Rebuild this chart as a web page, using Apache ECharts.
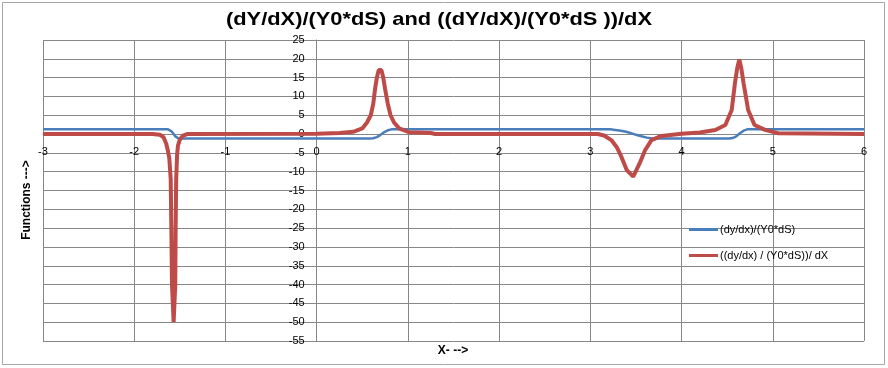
<!DOCTYPE html>
<html>
<head>
<meta charset="utf-8">
<script src="https://cdn.jsdelivr.net/npm/echarts@6/dist/echarts.min.js"></script>
<style>
html,body{margin:0;padding:0;background:#fff;}
#chart{width:888px;height:368px;}
</style>
</head>
<body>
<div id="chart"></div>
<script>
// ---- data ----
const titleText = "(dY/dX)/(Y0*dS) and ((dY/dX)/(Y0*dS ))/dX";
const seriesNames = ["(dy/dx)/(Y0*dS)", "((dy/dx) / (Y0*dS))/ dX"];
const xTicks = [-3, -2, -1, 0, 1, 2, 3, 4, 5, 6];
const yTicks = [-55, -50, -45, -40, -35, -30, -25, -20, -15, -10, -5, 0, 5, 10, 15, 20, 25];

const blueX = [-3, -1.63, -1.61, -1.59, -1.57, -1.55, -1.53, -1.51,
  0.58, 0.62, 0.66, 0.70, 0.74, 0.78, 0.82,
  3.22, 3.27, 3.32, 3.38, 3.44, 3.50, 3.56, 3.62, 3.68,
  4.52, 4.56, 4.60, 4.64, 4.68, 4.72, 6];
const blueY = [1.25, 1.25, 1.1, 0.7, 0.1, -0.6, -1.0, -1.2,
  -1.2, -1.1, -0.8, -0.2, 0.5, 1.0, 1.25,
  1.25, 1.1, 0.95, 0.7, 0.3, -0.2, -0.6, -0.95, -1.2,
  -1.2, -1.05, -0.6, 0.2, 0.9, 1.25, 1.25];

const redX = [-3, -1.80, -1.72, -1.68, -1.65, -1.63, -1.615, -1.60, -1.593, -1.586, -1.568,
  -1.55, -1.546, -1.54, -1.53, -1.52, -1.50, -1.47, -1.42,
  0.0, 0.25, 0.40, 0.50, 0.55, 0.593, 0.62, 0.64, 0.66, 0.68, 0.696, 0.71, 0.73, 0.75, 0.78, 0.81, 0.85, 0.905, 1.01, 1.25, 1.30,
  3.08, 3.15, 3.23, 3.29, 3.34, 3.40, 3.47, 3.54, 3.60, 3.67, 3.78, 4.0, 4.2,
  4.37, 4.48, 4.55, 4.585, 4.61, 4.633, 4.655, 4.68, 4.73, 4.80, 4.915, 5.06, 6];
const redY = [0, 0, -0.2, -0.8, -2.5, -4.5, -6.5, -12, -25, -40, -50,
  -40, -25, -12, -5.5, -3, -1.5, -0.5, 0,
  0.1, 0.3, 0.6, 1.5, 3, 5, 8, 12, 15, 17, 17.5, 17, 15, 12, 8, 5, 3, 1.5, 0.5, 0.3, 0,
  0, -0.4, -1.6, -3.5, -6, -9.6, -11.3, -7.8, -4.3, -1.6, -0.5, 0.1, 0.4,
  1.1, 2.4, 6.4, 13.5, 17.5, 19.8, 17.5, 13.5, 6.4, 2.4, 1.1, 0.2, 0];

const zip = (xs, ys) => xs.map((x, i) => [x, ys[i]]);

const gridColor = '#878787';
const font = 'Liberation Sans, Arial, sans-serif';

// grid box (pixels)
const G = {left: 43, right: 24, top: 40, bottom: 27};
const W = 888, H = 368;
const gw = W - G.left - G.right, gh = H - G.top - G.bottom;
const xMin = xTicks[0], xMax = xTicks[xTicks.length - 1];
const yMin = yTicks[0], yMax = yTicks[yTicks.length - 1];
// offsets so axes (with their labels) sit at the zero lines
const xAxisOffset = -(gh * (0 - yMin) / (yMax - yMin));
const yAxisOffset = -(gw * (0 - xMin) / (xMax - xMin));

const chart = echarts.init(document.getElementById('chart'), null, {renderer: 'canvas'});
chart.setOption({
  backgroundColor: '#ffffff',
  animation: false,
  grid: {left: G.left, right: G.right, top: G.top, bottom: G.bottom, containLabel: false},
  legend: {
    orient: 'vertical',
    left: 684,
    top: 219,
    itemGap: 15,
    itemWidth: 29,
    itemHeight: 3,
    icon: 'rect',
    data: seriesNames,
    textStyle: {fontFamily: font, fontSize: 11, color: '#000', padding: [0, 0, 0, -3]}
  },
  xAxis: {
    type: 'value',
    position: 'bottom',
    offset: xAxisOffset,
    min: xMin,
    max: xMax,
    interval: 1,
    axisLine: {onZero: false, lineStyle: {color: gridColor, width: 1}},
    axisTick: {show: false},
    axisLabel: {fontFamily: font, fontSize: 11, color: '#000', margin: 12},
    splitLine: {show: true, lineStyle: {color: gridColor, width: 1}}
  },
  yAxis: {
    type: 'value',
    position: 'left',
    offset: yAxisOffset,
    min: yMin,
    max: yMax,
    interval: 5,
    axisLine: {onZero: false, lineStyle: {color: gridColor, width: 1}},
    axisTick: {show: false},
    axisLabel: {fontFamily: font, fontSize: 11, color: '#000', margin: 12},
    splitLine: {show: true, lineStyle: {color: gridColor, width: 1}}
  },
  graphic: [
    {type: 'rect', shape: {x: 2.5, y: 2.5, width: 882, height: 362}, style: {fill: 'none', stroke: '#a6a6a6', lineWidth: 1}, z: -10},
    {type: 'text', x: 439, y: 20, scaleX: 1.15,
      style: {text: titleText, fontFamily: font, fontSize: 19, fontWeight: 'bold', fill: '#000', align: 'center', verticalAlign: 'middle'}},
    {type: 'text', x: 27, y: 200, rotation: Math.PI / 2,
      style: {text: 'Functions --->', fontFamily: font, fontSize: 12, fontWeight: 'bold', fill: '#000', align: 'center', verticalAlign: 'middle'}},
    {type: 'text', x: 453, y: 351,
      style: {text: 'X- -->', fontFamily: font, fontSize: 12, fontWeight: 'bold', fill: '#000', align: 'center', verticalAlign: 'middle'}}
  ],
  series: [
    {name: seriesNames[0], type: 'line', data: zip(blueX, blueY), showSymbol: false, symbol: 'none',
      lineStyle: {color: '#4a7ebb', width: 2.5}, itemStyle: {color: '#4a7ebb'}},
    {name: seriesNames[1], type: 'line', data: zip(redX, redY), showSymbol: false, symbol: 'none',
      lineStyle: {color: '#be4b48', width: 4}, itemStyle: {color: '#be4b48'}}
  ]
});
</script>
</body>
</html>
